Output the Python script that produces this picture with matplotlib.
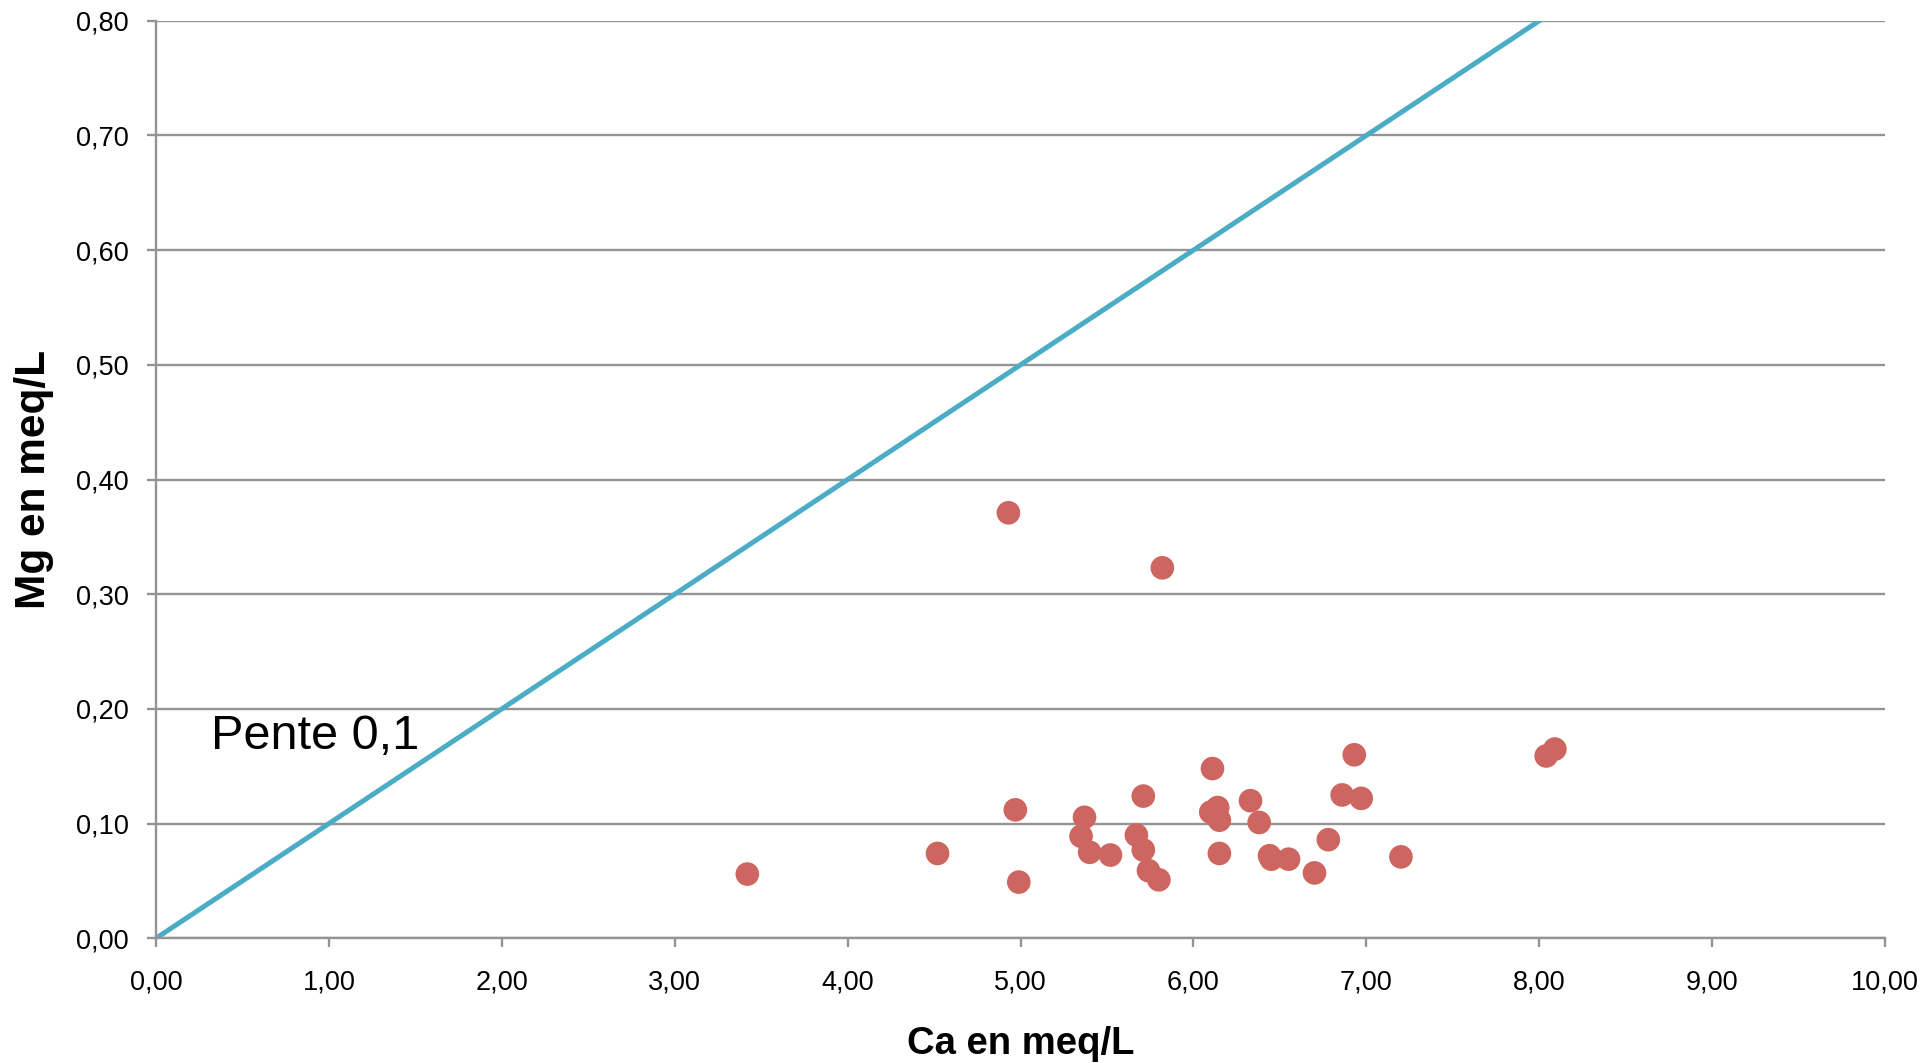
import matplotlib
matplotlib.use("Agg")
import matplotlib.pyplot as plt
import numpy as np

plt.rcParams['font.family'] = ['Liberation Sans', 'DejaVu Sans']

ca = [3.42, 4.52, 4.97, 4.99, 5.37, 5.35, 5.40, 5.52, 5.71, 5.67, 5.71, 5.74, 5.80,
      6.11, 6.10, 6.14, 6.15, 6.15, 6.33, 6.38, 6.44, 6.45, 6.55, 6.70, 6.78, 6.86,
      6.97, 6.93, 7.20, 8.04, 8.09, 4.93, 5.82]
mg = [0.056, 0.074, 0.112, 0.049, 0.1055, 0.089, 0.075, 0.0726, 0.124, 0.090, 0.077,
      0.059, 0.051, 0.148, 0.110, 0.114, 0.103, 0.074, 0.120, 0.101, 0.072, 0.069,
      0.069, 0.057, 0.086, 0.125, 0.122, 0.160, 0.071, 0.159, 0.165, 0.371, 0.323]

line_x = [0.0, 10.0]
slope = 0.1
xticks = np.arange(0, 10.01, 1.0)
yticks = np.arange(0, 0.801, 0.1)

fig = plt.figure(figsize=(19.23, 10.63), dpi=100)
ax = fig.add_axes([0.0811, 0.1173, 0.8992, 0.8632])

grid_col = '#949494'
for y in yticks:
    ax.axhline(y, color=grid_col, lw=1.7, zorder=1)

ax.plot(line_x, [slope * x for x in line_x], color='#4BACC6', lw=3.6, zorder=2,
        solid_capstyle='butt')
ax.scatter(ca, mg, s=290, color='#CD6660', edgecolors='none', zorder=3)

ax.set_xlim(0, 10)
ax.set_ylim(0, 0.8)
ax.set_xticks(xticks)
ax.set_yticks(yticks)
ax.set_xticklabels([f"{v:.2f}".replace('.', ',') for v in xticks])
ax.set_yticklabels([f"{v:.2f}".replace('.', ',') for v in yticks])

for s in ['top', 'right']:
    ax.spines[s].set_visible(False)
for s in ['left', 'bottom']:
    ax.spines[s].set_color(grid_col)
    ax.spines[s].set_linewidth(1.7)

ax.tick_params(axis='both', direction='out', length=6.5, width=1.7, color=grid_col,
               labelsize=19.5)
ax.tick_params(axis='y', pad=13)
ax.tick_params(axis='x', pad=16)

ax.set_xlabel('Ca en meq/L', fontsize=27.5, fontweight='bold', labelpad=22)
ax.set_ylabel('Mg en meq/L', fontsize=30.5, fontweight='bold', labelpad=16)

ax.text(0.32, 0.176, 'Pente 0,1', fontsize=35, ha='left', va='center', zorder=4)

fig.savefig('out.png', dpi=100)
